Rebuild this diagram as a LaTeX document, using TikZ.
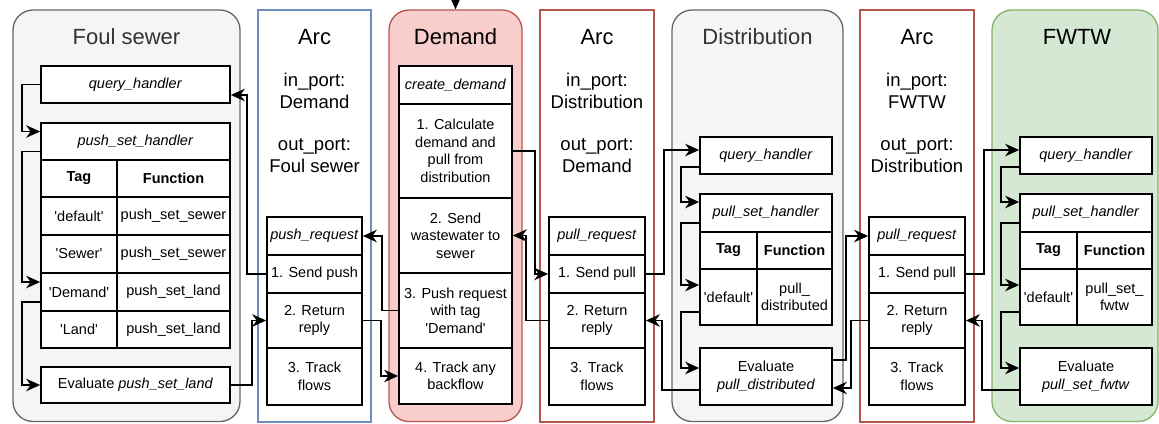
\documentclass[tikz,border=0pt]{standalone}
\usepackage{fontspec}
\setmainfont{Liberation Sans}
\usetikzlibrary{arrows.meta,calc}

\definecolor{grayfill}{HTML}{F5F5F5}
\definecolor{graystroke}{HTML}{666666}
\definecolor{graytext}{HTML}{333333}
\definecolor{bluestroke}{HTML}{6C8EBF}
\definecolor{redfill}{HTML}{F8CECC}
\definecolor{redstroke}{HTML}{B85450}
\definecolor{greenfill}{HTML}{D5E8D4}
\definecolor{greenstroke}{HTML}{82B366}

% box from (x1,y1) to (x2,y2), y measured downwards
\newcommand{\boxat}[7][]{%
  \node[#1, minimum width={(#5-#3)*1pt}, minimum height={(#6-#4)*1pt}]
    (#2) at ({(#3+#5)/2},{(#4+#6)/2}) {#7};}
\newcommand{\sq}[1]{\textquotesingle#1\textquotesingle}

\tikzset{
  container/.style={draw, line width=1.3pt, rounded corners=20pt, inner sep=0pt},
  arcframe/.style={draw, line width=1.3pt, fill=white, inner sep=0pt},
  cell/.style={draw, line width=1.7pt, fill=white, align=center, inner sep=0pt,
    font=\fontsize{14.5}{17.5}\selectfont},
  title/.style={font=\fontsize{22}{26}\selectfont},
  port/.style={font=\fontsize{18.5}{22}\selectfont, align=center},
  link/.style={line width=1.7pt, -{Stealth[length=14pt,width=12.5pt,inset=4.5pt]}},
}

\begin{document}
\begin{tikzpicture}[x=1pt,y=-1pt]
\useasboundingbox (0,0) rectangle (1159,423);

% ---------- containers ----------
\boxat[container, fill=grayfill, draw=graystroke]{foul}{13}{10}{240}{421.5}{}
\boxat[arcframe, draw=bluestroke]{arcA}{258}{10}{371}{422}{}
\boxat[container, fill=redfill, draw=redstroke]{demand}{389}{10}{522}{421.5}{}
\boxat[arcframe, draw=redstroke]{arcB}{540}{10}{654}{422}{}
\boxat[container, fill=grayfill, draw=graystroke]{dist}{672}{10}{843}{421.5}{}
\boxat[arcframe, draw=redstroke]{arcC}{860}{10}{974}{422}{}
\boxat[container, fill=greenfill, draw=greenstroke]{fwtw}{992}{10}{1158}{421.5}{}

% ---------- titles ----------
\node[title, text=graytext] (foult) at (126.5,37) {Foul sewer};
\node[title] (arcAt) at (314.5,37) {Arc};
\node[port] (arcAin) at (314.5,91) {in\_port:\\Demand};
\node[port] (arcAout) at (314.5,156) {out\_port:\\Foul sewer};
\node[title] (demandt) at (455.5,37) {Demand};
\node[title] (arcBt) at (597,37) {Arc};
\node[port] (arcBin) at (597,91) {in\_port:\\Distribution};
\node[port] (arcBout) at (597,156) {out\_port:\\Demand};
\node[title, text=graytext] (distt) at (757.5,37) {Distribution};
\node[title] (arcCt) at (917,37) {Arc};
\node[port] (arcCin) at (917,91) {in\_port:\\FWTW};
\node[port] (arcCout) at (917,156) {out\_port:\\Distribution};
\node[title] (fwtwt) at (1077,37) {FWTW};

% ---------- Foul sewer ----------
\boxat[cell]{fqh}{41}{66}{230}{103}{\textit{query\_handler}}
\boxat[cell]{fpsh}{41}{123}{230}{160}{\textit{push\_set\_handler}}
\boxat[cell]{ftag}{41}{160}{117}{197}{\textbf{Tag}}
\boxat[cell]{ffun}{117}{160}{230}{197}{\textbf{Function}}
\boxat[cell]{fk1}{41}{197}{117}{235}{\sq{default}}
\boxat[cell]{fv1}{117}{197}{230}{235}{push\_set\_sewer}
\boxat[cell]{fk2}{41}{235}{117}{273}{\sq{Sewer}}
\boxat[cell]{fv2}{117}{235}{230}{273}{push\_set\_sewer}
\boxat[cell]{fk3}{41}{273}{117}{311}{\sq{Demand}}
\boxat[cell]{fv3}{117}{273}{230}{311}{push\_set\_land}
\boxat[cell]{fk4}{41}{311}{117}{348}{\sq{Land}}
\boxat[cell]{fv4}{117}{311}{230}{348}{push\_set\_land}
\boxat[cell]{fev}{41}{367}{230}{403}{Evaluate \textit{push\_set\_land}}

% ---------- Arc: Demand -> Foul sewer ----------
\boxat[cell]{a1h}{267}{217}{362}{255}{\textit{push\_request}}
\boxat[cell]{a1s1}{267}{255}{362}{293}{1. Send push}
\boxat[cell]{a1s2}{267}{293}{362}{348}{2. Return\\reply}
\boxat[cell]{a1s3}{267}{348}{362}{405}{3. Track\\flows}

% ---------- Demand ----------
\boxat[cell]{dh}{399}{66}{512}{104}{\textit{create\_demand}}
\boxat[cell]{d1}{399}{104}{512}{198}{1. Calculate\\demand and\\pull from\\distribution}
\boxat[cell]{d2}{399}{198}{512}{273}{2. Send\\wastewater to\\sewer}
\boxat[cell]{d3}{399}{273}{512}{348}{3. Push request\\with tag\\\sq{Demand}}
\boxat[cell]{d4}{399}{348}{512}{404}{4. Track any\\backflow}

% ---------- Arc: Distribution -> Demand ----------
\boxat[cell]{a2h}{549}{217}{645}{255}{\textit{pull\_request}}
\boxat[cell]{a2s1}{549}{255}{645}{293}{1. Send pull}
\boxat[cell]{a2s2}{549}{293}{645}{348}{2. Return\\reply}
\boxat[cell]{a2s3}{549}{348}{645}{405}{3. Track\\flows}

% ---------- Distribution ----------
\boxat[cell]{dqh}{700}{137}{832}{174}{\textit{query\_handler}}
\boxat[cell]{dpsh}{700}{194}{832}{232}{\textit{pull\_set\_handler}}
\boxat[cell]{dtag}{700}{232}{757}{269}{\textbf{Tag}}
\boxat[cell]{dfun}{757}{232}{832}{269}{\textbf{Function}}
\boxat[cell]{dk1}{700}{269}{757}{325}{\sq{default}}
\boxat[cell]{dv1}{757}{269}{832}{325}{pull\_\\distributed}
\boxat[cell]{dev}{700}{348}{832}{405}{Evaluate\\\textit{pull\_distributed}}

% ---------- Arc: FWTW -> Distribution ----------
\boxat[cell]{a3h}{869}{217}{965}{255}{\textit{pull\_request}}
\boxat[cell]{a3s1}{869}{255}{965}{293}{1. Send pull}
\boxat[cell]{a3s2}{869}{293}{965}{348}{2. Return\\reply}
\boxat[cell]{a3s3}{869}{348}{965}{405}{3. Track\\flows}

% ---------- FWTW ----------
\boxat[cell]{wqh}{1020}{137}{1152}{174}{\textit{query\_handler}}
\boxat[cell]{wpsh}{1020}{194}{1152}{232}{\textit{pull\_set\_handler}}
\boxat[cell]{wtag}{1020}{232}{1077}{269}{\textbf{Tag}}
\boxat[cell]{wfun}{1077}{232}{1152}{269}{\textbf{Function}}
\boxat[cell]{wk1}{1020}{269}{1077}{325}{\sq{default}}
\boxat[cell]{wv1}{1077}{269}{1152}{325}{pull\_set\_\\fwtw}
\boxat[cell]{wev}{1020}{348}{1152}{405}{Evaluate\\\textit{pull\_set\_fwtw}}

% ---------- connectors ----------
\coordinate (feed) at (455.5,-14);
\draw[link] (feed) -- (demand.north);

% Foul sewer internal flow
\draw[link] (fqh.west) -- ++(-18,0) |- ($(fpsh.west)+(0,-10)$);
\draw[link] ($(fpsh.west)+(0,10)$) -- ++(-18,0) |- ($(fk3.west)+(0,-10)$);
\draw[link] ($(fk3.west)+(0,10)$) -- ++(-18,0) |- (fev.west);
% Foul sewer <-> arc
\draw[link] (fev.east) -- ++(21,0) |- (a1s2.west);
\draw[link] (a1s1.west) -- ++(-19,0) |- ($(fqh.east)+(0,10.5)$);
% Demand <-> arc (push)
\draw[link] (d3.west) -- ++(-16,0) |- (a1h.east);
\draw[link] (a1s2.east) -- ++(18,0) |- (d4.west);
% Demand <-> arc (pull)
\draw[link] (d1.east) -- ++(22,0) |- (a2s1.west);
\draw[link] (a2s2.west) -- ++(-22,0) |- (d2.east);
% arc <-> Distribution
\draw[link] (a2s1.east) -- ++(18,0) |- ($(dqh.west)+(0,-5.5)$);
\draw[link] ($(dev.west)+(0,13.5)$) -- ++(-37,0) |- (a2s2.east);
% Distribution internal flow
\draw[link] ($(dqh.west)+(0,11.5)$) -- ++(-18,0) |- ($(dpsh.west)+(0,-11)$);
\draw[link] ($(dpsh.west)+(0,10)$) -- ++(-18,0) |- ($(dk1.west)+(0,-12)$);
\draw[link] ($(dk1.west)+(0,15)$) -- ++(-18,0) |- ($(dev.west)+(0,-8.5)$);
% Distribution <-> arc
\draw[link] ($(dev.east)+(0,-16.5)$) -- ++(13,0) |- (a3h.west);
\draw[link] (a3s2.west) -- ++(-17,0) |- ($(dev.east)+(0,11.5)$);
% arc <-> FWTW
\draw[link] (a3s1.east) -- ++(18,0) |- ($(wqh.west)+(0,-5.5)$);
\draw[link] ($(wev.west)+(0,13.5)$) -- ++(-37,0) |- (a3s2.east);
% FWTW internal flow
\draw[link] ($(wqh.west)+(0,11.5)$) -- ++(-18,0) |- ($(wpsh.west)+(0,-11)$);
\draw[link] ($(wpsh.west)+(0,10)$) -- ++(-18,0) |- ($(wk1.west)+(0,-12)$);
\draw[link] ($(wk1.west)+(0,15)$) -- ++(-18,0) |- ($(wev.west)+(0,-8.5)$);
\end{tikzpicture}
\end{document}
